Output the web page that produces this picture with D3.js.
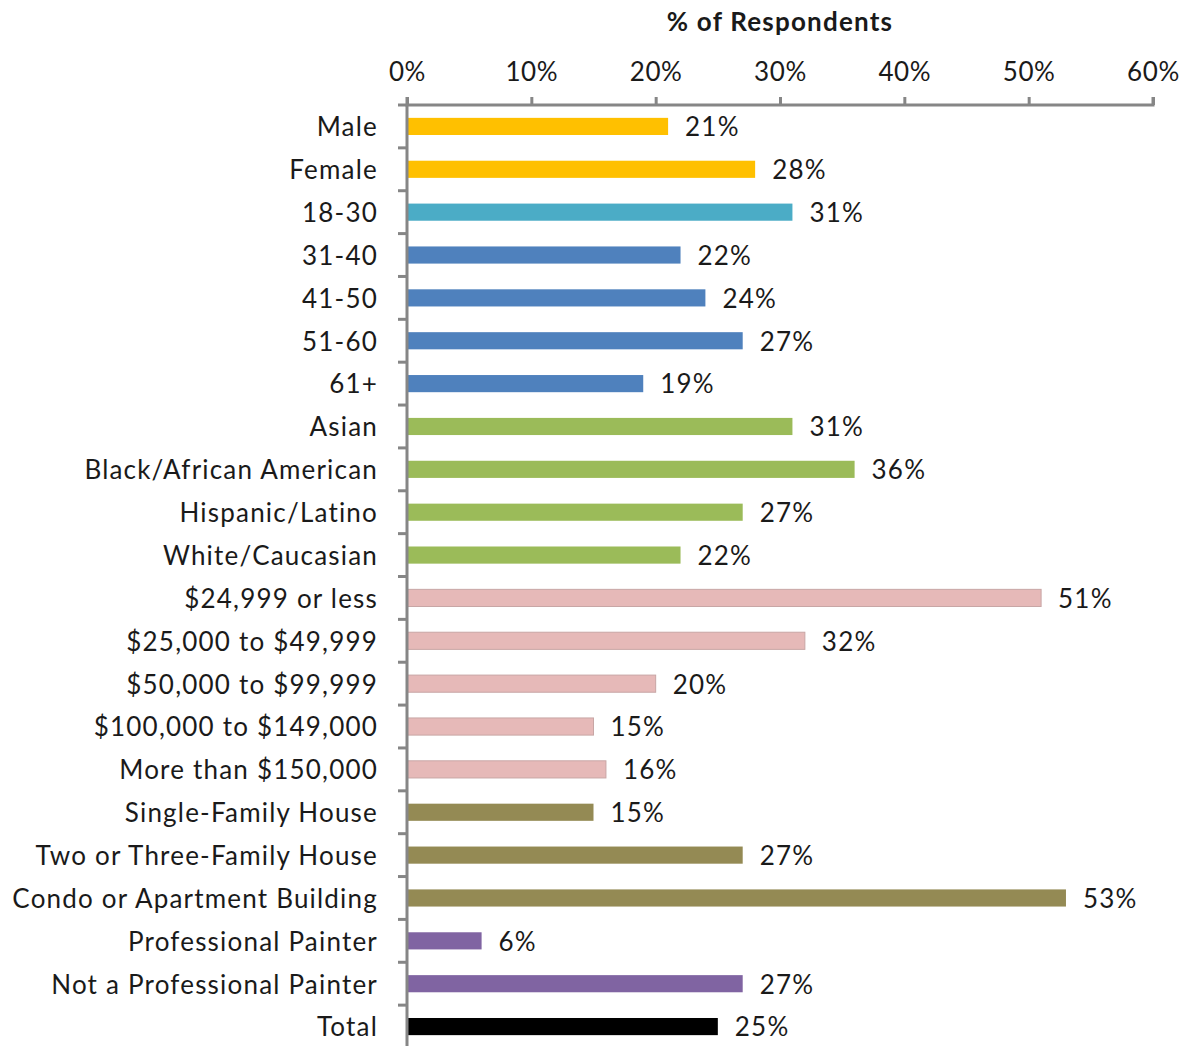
<!DOCTYPE html>
<html>
<head>
<meta charset="utf-8">
<script src="https://cdn.jsdelivr.net/npm/d3@7"></script>
<style>
  html, body { margin: 0; padding: 0; background: #fff; }
  svg { display: block; font-family: Lato, "Open Sans", sans-serif; }
</style>
</head>
<body>
<svg id="chart" width="1180" height="1046"></svg>
<script>
// Survey breakdown: share of respondents per demographic group
const categories = [
  "Male", "Female",
  "18-30", "31-40", "41-50", "51-60", "61+",
  "Asian", "Black/African American", "Hispanic/Latino", "White/Caucasian",
  "$24,999 or less", "$25,000 to $49,999", "$50,000 to $99,999", "$100,000 to $149,000", "More than $150,000",
  "Single-Family House", "Two or Three-Family House", "Condo or Apartment Building",
  "Professional Painter", "Not a Professional Painter",
  "Total"
];
const values = [21, 28, 31, 22, 24, 27, 19, 31, 36, 27, 22, 51, 32, 20, 15, 16, 15, 27, 53, 6, 27, 25];
const groups = [
  "gender", "gender",
  "age18", "age", "age", "age", "age",
  "race", "race", "race", "race",
  "income", "income", "income", "income", "income",
  "home", "home", "home",
  "painter", "painter",
  "total"
];
const tickValues = [0, 10, 20, 30, 40, 50, 60];
const axisTitle = "% of Respondents";

const groupColors = {
  gender: "#FFC000",
  age18: "#4BACC6",
  age: "#4F81BD",
  race: "#9BBB59",
  income: "#E6B9B8",
  home: "#948A54",
  painter: "#8064A2",
  total: "#000000"
};

const svg = d3.select("#chart");
const margin = { top: 105, left: 407 };
const plotW = 746;
const plotH = 943;
const fontSize = 26;
const spacing = 1.2;

const x = d3.scaleLinear().domain([0, 60]).range([0, plotW]);
const y = d3.scaleBand().domain(categories).range([0, plotH]).paddingInner(0.6).paddingOuter(0.3);

const g = svg.append("g").attr("transform", `translate(${margin.left},${margin.top})`);

// bars
g.selectAll("rect.bar")
  .data(categories)
  .join("rect")
  .attr("class", "bar")
  .attr("x", 0)
  .attr("y", d => y(d))
  .attr("width", (d, i) => x(values[i]))
  .attr("height", y.bandwidth())
  .attr("fill", (d, i) => groupColors[groups[i]])
  .attr("stroke", (d, i) => groups[i] === "income" ? "#c8a6a5" : "none")
  .attr("stroke-width", 1);

// value labels
g.selectAll("text.val")
  .data(categories)
  .join("text")
  .attr("class", "val")
  .attr("x", (d, i) => x(values[i]) + 17)
  .attr("y", d => y(d) + y.bandwidth() / 2)
  .attr("dy", "0.38em")
  .attr("font-size", fontSize)
  .attr("letter-spacing", spacing)
  .attr("fill", "#1a1a1a")
  .text((d, i) => values[i] + "%");

// top axis
const xAxis = d3.axisTop(x)
  .tickValues(tickValues)
  .tickFormat(d => d + "%")
  .tickSize(8)
  .tickPadding(16);
const ax = g.append("g").call(xAxis);
ax.select(".domain").attr("stroke", "#868686").attr("stroke-width", 3)
  .attr("d", `M0,-8V0H${plotW}V-8`);
ax.selectAll(".tick line").attr("stroke", "#868686").attr("stroke-width", 3);
ax.selectAll(".tick text")
  .attr("font-size", fontSize)
  .attr("letter-spacing", 0.6)
  .attr("fill", "#1a1a1a")
  .attr("font-family", "Lato, sans-serif");

// left axis with ticks between categories
const bounds = d3.range(categories.length + 1).map(i => (plotH / categories.length) * i);
g.append("line")
  .attr("x1", 0).attr("x2", 0)
  .attr("y1", 0).attr("y2", plotH)
  .attr("stroke", "#868686").attr("stroke-width", 3);
g.selectAll("line.ytick")
  .data(bounds)
  .join("line")
  .attr("class", "ytick")
  .attr("x1", -9).attr("x2", 0)
  .attr("y1", d => d).attr("y2", d => d)
  .attr("stroke", "#868686").attr("stroke-width", 3);

// category labels
g.selectAll("text.cat")
  .data(categories)
  .join("text")
  .attr("class", "cat")
  .attr("x", -29)
  .attr("y", d => y(d) + y.bandwidth() / 2)
  .attr("dy", "0.38em")
  .attr("text-anchor", "end")
  .attr("font-size", fontSize)
  .attr("letter-spacing", spacing)
  .attr("fill", "#1a1a1a")
  .text(d => d);

// axis title
svg.append("text")
  .attr("x", margin.left + plotW / 2)
  .attr("y", 31)
  .attr("text-anchor", "middle")
  .attr("font-size", 26)
  .attr("font-weight", "bold")
  .attr("letter-spacing", 1.2)
  .attr("fill", "#1a1a1a")
  .text(axisTitle);
</script>
</body>
</html>
